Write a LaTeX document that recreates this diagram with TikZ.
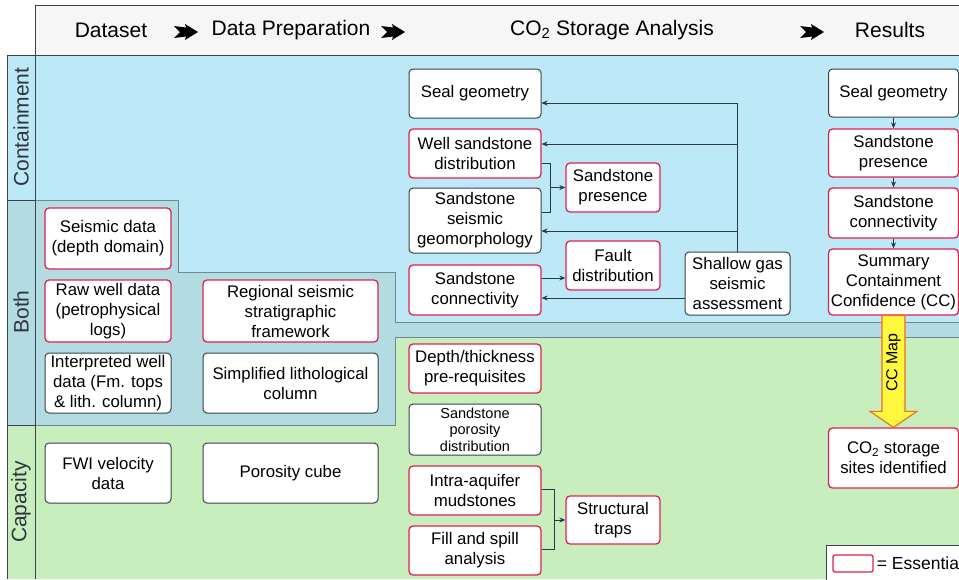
\documentclass[tikz,border=0pt]{standalone}
\usepackage{fontspec}
\setmainfont{Liberation Sans}
\usetikzlibrary{arrows.meta}

\definecolor{contblue}{RGB}{188,232,247}
\definecolor{bothblue}{RGB}{178,220,226}
\definecolor{capgreen}{RGB}{200,238,190}
\definecolor{hdrgrey}{RGB}{246,246,246}
\definecolor{essred}{RGB}{222,34,78}
\definecolor{edgegrey}{RGB}{58,66,74}
\definecolor{lineblue}{RGB}{40,56,72}
\definecolor{zonegrey}{RGB}{112,136,146}
\definecolor{ccyellow}{RGB}{255,248,60}
\definecolor{ccorange}{RGB}{236,110,40}

% black step arrow of the header row
\newcommand{\hdrarrow}[1]{\fill[black,shift={(#1)}] (-12,-6) -- (-6,0) -- (-12,6) -- (0,4.5) -- (-1,8) -- (12,0) -- (-1,-8) -- (0,-4.5) -- cycle;}

\begin{document}
\begin{tikzpicture}
      [x=1pt,y=-1pt,
       font=\fontsize{16.8}{20}\selectfont,
       box/.style={rectangle,rounded corners=4pt,draw=edgegrey,line width=1pt,fill=white,align=center,inner sep=1pt},
       ess/.style={box,draw=essred,line width=1.3pt},
       hdr/.style={font=\fontsize{21}{24}\selectfont},
       zone/.style={font=\fontsize{21}{24}\selectfont,rotate=90,text=edgegrey!80!black},
       conn/.style={draw=lineblue,line width=0.9pt},
       >={Stealth[length=6pt,width=5pt]}]
      \useasboundingbox (0,0) rectangle (959,579);
      \clip (0,0) rectangle (959,579);
      \fill[white] (0,0) rectangle (959,579);
      % zones
      \fill[contblue] (7,55) rectangle (959,337);
      \fill[bothblue] (7,200) -- (178,200) -- (178,272) -- (395,272) -- (395,322) -- (959,322)
                      -- (959,337) -- (395,337) -- (395,425) -- (7,425) -- cycle;
      \fill[capgreen] (7,425) -- (395,425) -- (395,337) -- (959,337) -- (959,579) -- (7,579) -- cycle;
      \fill[hdrgrey] (35,5) rectangle (959,55);
      \draw[zonegrey,line width=0.8pt] (35,200) -- (178,200) -- (178,272) -- (395,272) -- (395,322) -- (959,322);
      \draw[zonegrey,line width=0.8pt] (959,337) -- (395,337) -- (395,425) -- (35,425);
      \draw[edgegrey,line width=0.9pt] (35,5) -- (959,5);
      \draw[edgegrey,line width=0.9pt] (7,55) -- (959,55);
      \draw[edgegrey,line width=0.9pt] (35,5) -- (35,579);
      \draw[edgegrey,line width=0.9pt] (7,55) -- (7,579);
      \draw[edgegrey,line width=0.9pt] (7,200) -- (35,200);
      \draw[edgegrey,line width=0.9pt] (7,425) -- (35,425);
      % header
      \node[hdr] (hdata) at (111,30) {Dataset};
      \node[hdr] (hprep) at (291,30) {Data Preparation};
      \node[hdr] (hanal) at (612,30) {CO\textsubscript{2} Storage Analysis};
      \node[hdr] (hres) at (890,30) {Results};
      \coordinate (ha1) at (186,32);
      \coordinate (ha2) at (393,32);
      \coordinate (ha3) at (812,32);
      \hdrarrow{ha1}
      \hdrarrow{ha2}
      \hdrarrow{ha3}
      \node[zone] (zcont) at (21,127) {Containment};
      \node[zone] (zboth) at (21,312) {Both};
      \node[zone] (zcap) at (21,502) {Capacity};
      % dataset
      \node[ess,minimum width=126,minimum height=61] (seis) at (108,238.5) {Seismic data\\(depth domain)};
      \node[ess,minimum width=126,minimum height=62] (rawwell) at (108,311) {Raw well data\\(petrophysical\\logs)};
      \node[box,minimum width=126,minimum height=60] (interp) at (108,383) {Interpreted well\\data (Fm. tops\\\& lith. column)};
      \node[box,minimum width=126,minimum height=60] (fwi) at (108,473) {FWI velocity\\data};
      % data preparation
      \node[ess,minimum width=175,minimum height=62] (regional) at (290.5,311) {Regional seismic\\stratigraphic\\framework};
      \node[box,minimum width=175,minimum height=60] (litho) at (290.5,383) {Simplified lithological\\column};
      \node[box,minimum width=175,minimum height=60] (porcube) at (290.5,473) {Porosity cube};
      % storage analysis
      \node[box,minimum width=132,minimum height=49] (sealgeo) at (475,93.5) {Seal geometry};
      \node[ess,minimum width=132,minimum height=49] (wellsand) at (475,153.5) {Well sandstone\\distribution};
      \node[box,minimum width=132,minimum height=65] (geomorph) at (475,220.5) {Sandstone\\seismic\\geomorphology};
      \node[ess,minimum width=132,minimum height=50] (sandconn) at (475,290) {Sandstone\\connectivity};
      \node[ess,minimum width=132,minimum height=49] (depth) at (475,368.5) {Depth/thickness\\pre-requisites};
      \node[box,minimum width=132,minimum height=51,inner sep=0pt,font=\fontsize{14.5}{16.5}\selectfont] (porodist) at (475,429.5) {Sandstone\\porosity\\distribution};
      \node[ess,minimum width=132,minimum height=49] (intra) at (475,490.5) {Intra-aquifer\\mudstones};
      \node[ess,minimum width=132,minimum height=49] (fillspill) at (475,550.5) {Fill and spill\\analysis};
      \node[ess,minimum width=94,minimum height=49] (sandpres) at (613,187.5) {Sandstone\\presence};
      \node[ess,minimum width=94,minimum height=49] (fault) at (613,265.5) {Fault\\distribution};
      \node[ess,minimum width=94,minimum height=48] (structural) at (613,520) {Structural\\traps};
      \node[box,minimum width=105,minimum height=63] (shallow) at (737.5,283.5) {Shallow gas\\seismic\\assessment};
      % results
      \node[box,minimum width=130,minimum height=48] (rseal) at (893.5,93) {Seal geometry};
      \node[ess,minimum width=130,minimum height=48] (rpres) at (893.5,153) {Sandstone\\presence};
      \node[ess,minimum width=130,minimum height=50] (rconn) at (893.5,213) {Sandstone\\connectivity};
      \node[ess,minimum width=130,minimum height=66] (summary) at (893.5,282) {Summary\\Containment\\Confidence (CC)};
      \node[ess,minimum width=130,minimum height=60] (sites) at (893.5,458) {CO\textsubscript{2} storage\\sites identified};
      % shallow gas feeds
      \coordinate (sg1) at (737.5,103);
      \coordinate (sg2) at (737.5,144);
      \coordinate (sg3) at (737.5,231);
      \coordinate (sg4) at (737.5,298);
      \draw[conn,->] (shallow.north) -- (sg1) -- (sealgeo.east |- sg1);
      \draw[conn,->] (sg2) -- (wellsand.east |- sg2);
      \draw[conn,->] (sg3) -- (geomorph.east |- sg3);
      \draw[conn,->] (shallow.west |- sg4) -- (sandconn.east |- sg4);
      % sandstone presence
      \coordinate (pr1) at (550,163);
      \coordinate (pr2) at (550,212);
      \coordinate (pr3) at (550,187.5);
      \draw[conn] (wellsand.east |- pr1) -- (pr1) -- (pr2) -- (geomorph.east |- pr2);
      \draw[conn,->] (pr3) to (sandpres.west);
      \coordinate (fa1) at (550,278);
      \draw[conn,->] (sandconn.east |- fa1) to (fault.west |- fa1);
      % structural traps
      \coordinate (tr1) at (554,489);
      \coordinate (tr2) at (554,549);
      \coordinate (tr3) at (554,520);
      \draw[conn] (intra.east |- tr1) -- (tr1) -- (tr2) -- (fillspill.east |- tr2);
      \draw[conn,->] (tr3) to (structural.west);
      % results chain
      \draw[conn,->] (rseal) to (rpres);
      \draw[conn,->] (rpres) to (rconn);
      \draw[conn,->] (rconn) to (summary);
      \draw[fill=ccyellow,draw=ccorange,line width=1.1pt,line join=miter]
            ([xshift=-11.5pt]summary.south) -- ([xshift=-11.5pt,yshift=16pt]sites.north)
            -- ([xshift=-23.5pt,yshift=16pt]sites.north) -- (sites.north)
            -- ([xshift=23.5pt,yshift=16pt]sites.north) -- ([xshift=11.5pt,yshift=16pt]sites.north)
            -- ([xshift=11.5pt]summary.south) -- cycle;
      \path (summary.south) -- (sites.north) node[pos=0.42,rotate=90,font=\fontsize{16}{18}\selectfont] (ccmap) {CC Map};
      % legend
      \draw[edgegrey,fill=white,line width=0.9pt] (826,545) rectangle (970,590);
      \node[ess,rounded corners=2pt,minimum width=40,minimum height=17] (key) at (853,563.5) {};
      \node[anchor=west,inner sep=0pt,font=\fontsize{17.5}{20}\selectfont] (keytext) at ([xshift=3pt]key.east) {= Essentia};
    \end{tikzpicture}
\end{document}
